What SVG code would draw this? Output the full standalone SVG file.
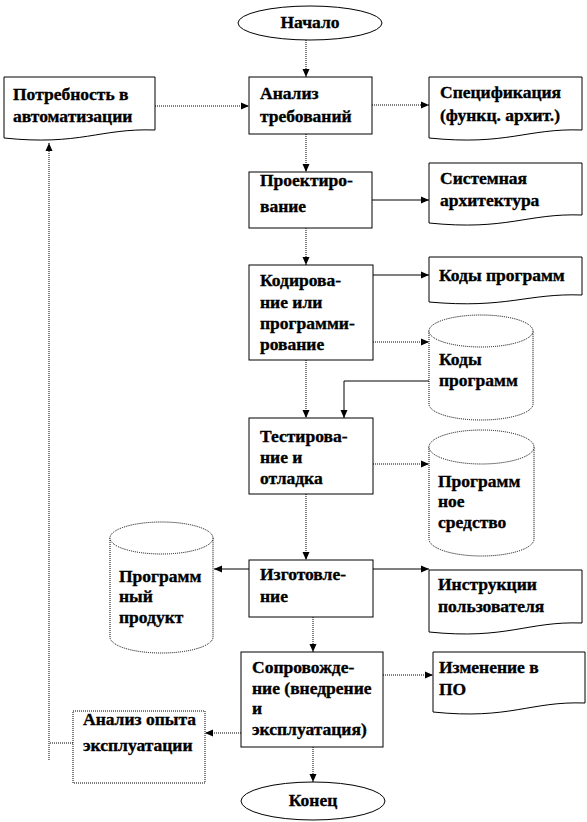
<svg xmlns="http://www.w3.org/2000/svg" width="587" height="822" viewBox="0 0 587 822">
<style>
  .t{font-weight:700;font-size:17.5px;fill:#000;stroke:#000;stroke-width:0.35}
  .c{text-anchor:middle}
  .sh{fill:#fff;stroke:#000;stroke-width:1}
  .shd{fill:#fff;stroke:#000;stroke-width:1;stroke-dasharray:1 1}
  .sol{fill:none;stroke:#000;stroke-width:1}
  .dot{fill:none;stroke:#000;stroke-width:1;stroke-dasharray:1 1}
</style>
<defs>
  <marker id="ah" viewBox="0 0 8 8" refX="8" refY="4" markerWidth="8" markerHeight="8" markerUnits="userSpaceOnUse" orient="auto">
    <path d="M0,0.5 L8,4 L0,7.5 z" fill="#000"/>
  </marker>
</defs>
<rect width="587" height="822" fill="#fff"/>

<g id="connectors">
  <line class="dot" x1="306" y1="40" x2="306" y2="77" marker-end="url(#ah)"/>
  <line class="dot" x1="155" y1="106" x2="249" y2="106" marker-end="url(#ah)"/>
  <line class="dot" x1="372" y1="105" x2="429" y2="105" marker-end="url(#ah)"/>
  <line class="dot" x1="306" y1="134" x2="306" y2="172" marker-end="url(#ah)"/>
  <line class="sol" x1="372" y1="200" x2="429" y2="200" marker-end="url(#ah)"/>
  <line class="dot" x1="306" y1="228" x2="306" y2="265" marker-end="url(#ah)"/>
  <line class="sol" x1="373" y1="275" x2="429" y2="275" marker-end="url(#ah)"/>
  <line class="dot" x1="373" y1="342" x2="429" y2="342" marker-end="url(#ah)"/>
  <line class="dot" x1="306" y1="360" x2="306" y2="418" marker-end="url(#ah)"/>
  <path class="sol" d="M429,381 H344 V418" marker-end="url(#ah)"/>
  <line class="dot" x1="373" y1="464" x2="429" y2="464" marker-end="url(#ah)"/>
  <line class="dot" x1="306" y1="494" x2="306" y2="560" marker-end="url(#ah)"/>
  <line class="sol" x1="249" y1="569" x2="214" y2="569" marker-end="url(#ah)"/>
  <line class="sol" x1="373" y1="569" x2="429" y2="569" marker-end="url(#ah)"/>
  <line x1="313" y1="605" x2="313" y2="617" stroke="#888" stroke-width="1.5"/>
  <line class="dot" x1="313" y1="617" x2="313" y2="652" marker-end="url(#ah)"/>
  <line class="dot" x1="383" y1="675" x2="433" y2="675" marker-end="url(#ah)"/>
  <line class="dot" x1="241" y1="733" x2="205" y2="733" marker-end="url(#ah)"/>
  <line class="dot" x1="313" y1="747" x2="313" y2="782" marker-end="url(#ah)"/>
  <line class="dot" x1="73" y1="743" x2="49" y2="743"/>
  <line class="dot" x1="49" y1="760" x2="49" y2="143" marker-end="url(#ah)"/>
</g>

<g font-family="Liberation Serif, Times New Roman, serif">
<g id="start">
  <ellipse class="sh" cx="310" cy="23" rx="72" ry="17"/>
  <text class="t c" x="310" y="28">Начало</text>
</g>

<g id="need">
  <path class="sh" d="M4,77 H155 V130 C100,128 80,146 4,138 Z"/>
  <text class="t" x="13" y="100">Потребность в</text>
  <text class="t" x="13" y="122">автоматизации</text>
</g>

<g id="analysis">
  <rect class="sh" x="249" y="77" width="123" height="57"/>
  <text class="t" x="260" y="99">Анализ</text>
  <text class="t" x="260" y="122">требований</text>
</g>

<g id="spec">
  <path class="sh" d="M429,77 H582 V130 C527,128 507,146 429,138 Z"/>
  <text class="t" x="440" y="98">Спецификация</text>
  <text class="t" x="440" y="121">(функц. архит.)</text>
</g>

<g id="design">
  <rect class="sh" x="249" y="172" width="123" height="56"/>
  <text class="t" x="260" y="186">Проектиро-</text>
  <text class="t" x="260" y="212">вание</text>
</g>

<g id="sysarch">
  <path class="sh" d="M429,163 H582 V215 C527,213 507,231 429,223 Z"/>
  <text class="t" x="440" y="184">Системная</text>
  <text class="t" x="440" y="206">архитектура</text>
</g>

<g id="coding">
  <rect class="sh" x="249" y="265" width="124" height="95"/>
  <text class="t" x="260" y="286">Кодирова-</text>
  <text class="t" x="260" y="307.5">ние или</text>
  <text class="t" x="260" y="329">программи-</text>
  <text class="t" x="260" y="350">рование</text>
</g>

<g id="codesdoc">
  <path class="sh" d="M429,257 H582 V295 C527,293 507,309 429,302 Z"/>
  <text class="t" x="439" y="281">Коды программ</text>
</g>

<g id="codesdb">
  <path class="shd" d="M429,331 V404 A52,16 0 0 0 533,404 V331"/>
  <ellipse class="shd" cx="481" cy="331" rx="52" ry="16"/>
  <text class="t" x="439" y="365">Коды</text>
  <text class="t" x="439" y="386">программ</text>
</g>

<g id="testing">
  <rect class="sh" x="249" y="418" width="124" height="76"/>
  <text class="t" x="260" y="442">Тестирова-</text>
  <text class="t" x="260" y="463">ние и</text>
  <text class="t" x="260" y="484">отладка</text>
</g>

<g id="swtool">
  <path class="shd" d="M429,447 V539 A52.5,17 0 0 0 534,539 V447"/>
  <ellipse class="shd" cx="481.5" cy="447" rx="52.5" ry="17"/>
  <text class="t" x="438" y="487">Программ</text>
  <text class="t" x="438" y="507">ное</text>
  <text class="t" x="438" y="528">средство</text>
</g>

<g id="manufacture">
  <rect class="sh" x="249" y="560" width="124" height="57"/>
  <text class="t" x="260" y="580">Изготовле-</text>
  <text class="t" x="260" y="602">ние</text>
</g>

<g id="swproduct">
  <path class="shd" d="M110,538 V637 A51.5,16 0 0 0 213,637 V538"/>
  <ellipse class="shd" cx="161.5" cy="538" rx="51.5" ry="16"/>
  <text class="t" x="119" y="582">Программ</text>
  <text class="t" x="119" y="602">ный</text>
  <text class="t" x="119" y="623">продукт</text>
</g>

<g id="instructions">
  <path class="sh" d="M429,570 H582 V623 C527,621 507,640 429,632 Z"/>
  <text class="t" x="438" y="590">Инструкции</text>
  <text class="t" x="438" y="612">пользователя</text>
</g>

<g id="maintenance">
  <rect class="sh" x="241" y="652" width="142" height="95"/>
  <text class="t" x="252" y="673">Сопровожде-</text>
  <text class="t" x="252" y="694">ние (внедрение</text>
  <text class="t" x="252" y="714">и</text>
  <text class="t" x="252" y="735">эксплуатация)</text>
</g>

<g id="change">
  <path class="sh" d="M433,652 H585 V703 C530,701 510,720 433,712 Z"/>
  <text class="t" x="439" y="673">Изменение в</text>
  <text class="t" x="439" y="695">ПО</text>
</g>

<g id="experience">
  <rect class="shd" x="73" y="711" width="132" height="72"/>
  <text class="t" x="83" y="725">Анализ опыта</text>
  <text class="t" x="83" y="751">эксплуатации</text>
</g>

<g id="end">
  <ellipse class="sh" cx="313" cy="801" rx="72" ry="19"/>
  <text class="t c" x="313" y="806">Конец</text>
</g>
</g>
</svg>
